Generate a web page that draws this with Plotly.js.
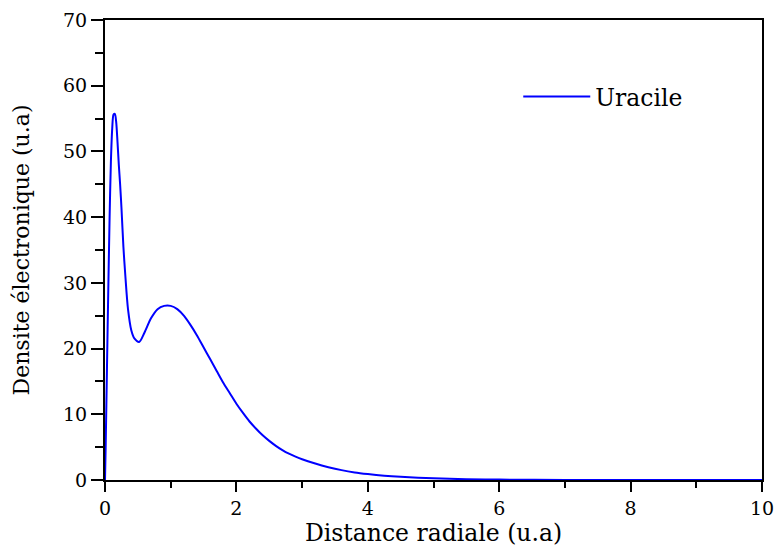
<!DOCTYPE html>
<html>
<head>
<meta charset="utf-8">
<script src="https://cdn.plot.ly/plotly-3.0.1.min.js"></script>
<style>html,body{margin:0;padding:0;background:#fff;}#chart{width:776px;height:551px;}</style>
</head>
<body>
<div id="chart"></div>
<script>
const seriesName = "Uracile";
const distance = [0, 0.01, 0.03, 0.05, 0.07, 0.09, 0.11, 0.13, 0.15, 0.17, 0.19, 0.21, 0.23, 0.25, 0.28, 0.31, 0.35, 0.4, 0.45, 0.52, 0.6, 0.7, 0.8, 0.9, 1.0, 1.1, 1.2, 1.3, 1.4, 1.5, 1.6, 1.7, 1.8, 1.9, 2.0, 2.1, 2.2, 2.3, 2.4, 2.5, 2.6, 2.7, 2.8, 2.9, 3.0, 3.2, 3.4, 3.6, 3.8, 4.0, 4.25, 4.5, 5.0, 5.5, 6.0, 7.0, 8.0, 9.0, 10.0];
const density = [0, 5, 17, 29, 40, 48.5, 53.5, 55.6, 55.7, 54.5, 51.5, 48, 45, 41.5, 35.5, 31, 26, 22.8, 21.5, 21.0, 22.4, 24.6, 26.0, 26.5, 26.5, 26.0, 25.0, 23.6, 22.0, 20.2, 18.4, 16.6, 14.8, 13.2, 11.6, 10.2, 8.9, 7.8, 6.8, 5.95, 5.2, 4.55, 4.0, 3.55, 3.15, 2.5, 1.95, 1.5, 1.15, 0.9, 0.65, 0.48, 0.25, 0.12, 0.06, 0.015, 0.004, 0.001, 0];
const xTitle = "Distance radiale (u.a)";
const yTitle = "Densite électronique (u.a)";

const fam = "DejaVu Serif";

const traces = [{
  x: distance, y: density, type: "scatter", mode: "lines", name: seriesName,
  line: {color: "#0000ff", width: 2, shape: "spline", smoothing: 0.8}
}];

const layout = {
  width: 776, height: 551,
  margin: {l: 105, r: 14, t: 20, b: 71},
  paper_bgcolor: "#fff", plot_bgcolor: "#fff",
  font: {family: fam, size: 19, color: "#000"},
  showlegend: true,
  legend: {x: 0.629, y: 0.833, xanchor: "left", yanchor: "middle", bgcolor: "rgba(0,0,0,0)",
           itemwidth: 67,
           font: {family: fam, size: 23.5, color: "#000"}},
  xaxis: {
    range: [0, 10], dtick: 2, tick0: 0, showgrid: false, zeroline: false,
    showline: true, linewidth: 2, linecolor: "#000", mirror: true,
    ticks: "outside", ticklen: 10, tickwidth: 2, tickcolor: "#000",
    minor: {dtick: 1, ticks: "outside", ticklen: 6, tickwidth: 2, tickcolor: "#000"},
    tickfont: {family: fam, size: 19, color: "#000"},
    title: {text: xTitle, font: {family: fam, size: 23.5, color: "#000"}, standoff: 7}
  },
  yaxis: {
    range: [0, 70], dtick: 10, tick0: 0, showgrid: false, zeroline: false,
    showline: true, linewidth: 2, linecolor: "#000", mirror: true,
    ticks: "outside", ticklen: 12, tickwidth: 2, tickcolor: "#000",
    minor: {dtick: 5, ticks: "outside", ticklen: 8, tickwidth: 2, tickcolor: "#000"},
    tickfont: {family: fam, size: 19, color: "#000"},
    title: {text: yTitle, font: {family: fam, size: 22, color: "#000"}, standoff: 27}
  },
  xaxis2: {
    overlaying: "x", side: "top", anchor: "y", range: [0, 10], dtick: 1, tick0: 0,
    showgrid: false, zeroline: false, showline: false, showticklabels: false,
    ticks: "inside", ticklen: 7, tickwidth: 2, tickcolor: "#000"
  },
  yaxis2: {
    overlaying: "y", side: "right", anchor: "x", range: [0, 70], dtick: 5, tick0: 0,
    showgrid: false, zeroline: false, showline: false, showticklabels: false,
    ticks: "inside", ticklen: 7, tickwidth: 2, tickcolor: "#000"
  }
};

Plotly.newPlot("chart", traces, layout, {staticPlot: true, displayModeBar: false});
</script>
</body>
</html>
